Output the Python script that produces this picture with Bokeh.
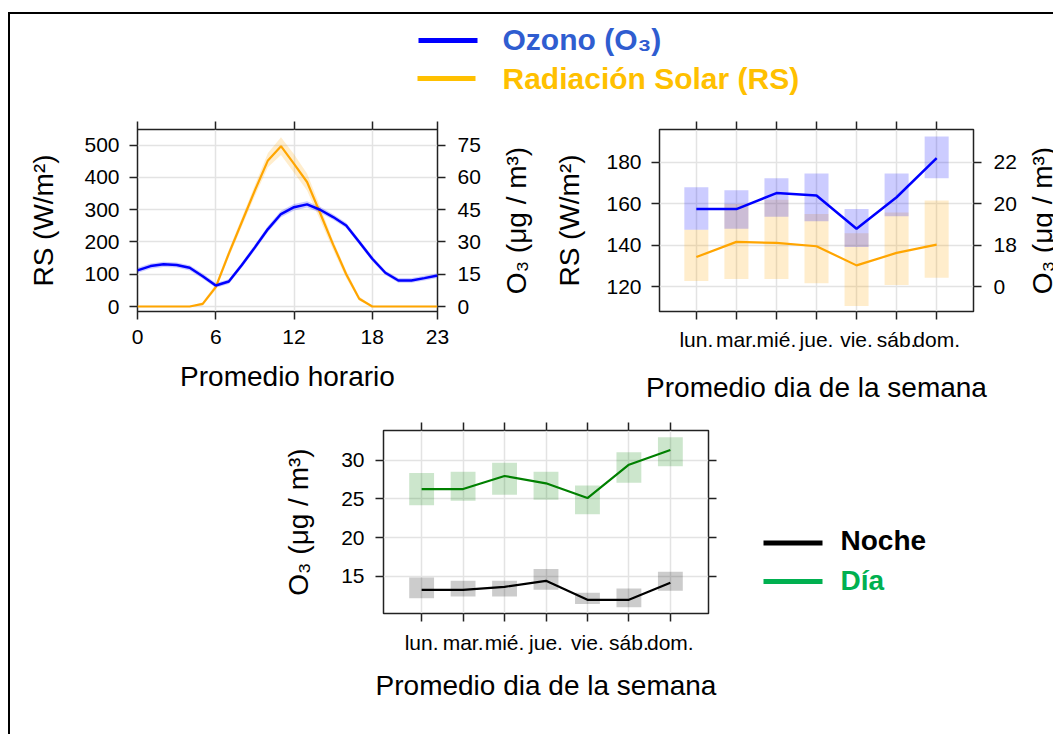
from bokeh.plotting import figure
from bokeh.models import Range1d, LinearAxis, CategoricalAxis, FixedTicker, FactorRange
from bokeh.layouts import column, row
from bokeh.embed import file_html
from bokeh.resources import INLINE
from bokeh.core.properties import value

FONT = "Liberation Sans"

# ---------------- data ----------------
hours = list(range(24))
hour_ticks = [0, 6, 12, 18, 23]
o3_hour = [16.8, 18.8, 19.6, 19.3, 18.0, 14.1, 9.8, 11.6, 19.3, 27.5, 36.0, 43.0,
           46.2, 47.5, 45.0, 41.6, 37.7, 30.0, 22.2, 15.7, 12.1, 12.1, 13.2, 14.4]
o3_hour_lo = [15.6, 17.6, 18.4, 18.1, 16.8, 12.9, 8.7, 10.5, 18.1, 26.2, 34.6, 41.5,
              44.7, 46.0, 43.6, 40.3, 36.5, 28.8, 21.0, 14.6, 11.0, 11.0, 12.1, 13.3]
o3_hour_hi = [18.0, 20.0, 20.8, 20.5, 19.2, 15.3, 10.9, 12.7, 20.5, 28.8, 37.4, 44.5,
              47.7, 49.0, 46.4, 42.9, 38.9, 31.2, 23.4, 16.8, 13.2, 13.2, 14.3, 15.5]
rs_hour = [0, 0, 0, 0, 0, 8, 60, 164, 262, 360, 453, 497,
           442, 386, 290, 192, 100, 24, 0, 0, 0, 0, 0, 0]
rs_hour_lo = [0, 0, 0, 0, 0, 2, 52, 152, 248, 343, 432, 470,
              415, 360, 268, 175, 88, 18, 0, 0, 0, 0, 0, 0]
rs_hour_hi = [0, 0, 0, 0, 0, 14, 70, 176, 276, 377, 476, 525,
              472, 412, 310, 205, 112, 32, 0, 0, 0, 0, 0, 0]
rs_ticks = [0, 100, 200, 300, 400, 500]
o3_ticks_hour = [0, 15, 30, 45, 60, 75]

days = ["lun.", "mar.", "mié.", "jue.", "vie.", "sáb.", "dom."]
o3_day = [19.75, 19.75, 20.52, 20.40, 18.80, 20.32, 22.20]
o3_day_lo = [18.76, 18.80, 19.38, 19.16, 17.92, 19.40, 21.23]
o3_day_hi = [20.80, 20.66, 21.23, 21.46, 19.75, 21.46, 23.24]
rs_day = [134.4, 141.7, 141.2, 139.6, 130.4, 136.4, 140.4]
rs_day_lo = [122.9, 123.8, 123.8, 121.8, 110.9, 121.0, 124.5]
rs_day_hi = [147.6, 159.9, 162.0, 155.1, 145.9, 155.9, 161.6]
rs_ticks_day = [120, 140, 160, 180]
o3_ticks_day = [16, 18, 20, 22]
o3_tick_text_day = {16: "0"}

dia = [26.26, 26.26, 27.94, 27.00, 25.10, 29.40, 31.29]
dia_lo = [24.16, 24.76, 25.53, 24.89, 23.00, 27.08, 29.18]
dia_hi = [28.32, 28.50, 29.66, 28.50, 26.73, 30.99, 32.92]
noche = [13.28, 13.28, 13.67, 14.44, 11.99, 11.99, 14.19]
noche_lo = [12.21, 12.42, 12.42, 13.28, 11.44, 11.05, 13.15]
noche_hi = [14.87, 14.44, 14.44, 15.95, 12.90, 13.45, 15.60]
o3_ticks_dn = [15, 20, 25, 30]

top_legend_labels = ["Ozono (O₃)", "Radiación Solar (RS)"]
top_legend_colors = ["#2F5DD0", "#FFC000"]
top_legend_line_colors = ["#0000FF", "#FFC000"]
bottom_legend_labels = ["Noche", "Día"]
bottom_legend_colors = ["#000000", "#00B050"]

BLUE = "#0000FF"
ORANGE = "#FFA500"
GREEN = "#008000"
GRID = "#E3E3E3"
FRAME = "#222222"
O3_LABEL = "O₃ (μg / m³)"
RS_LABEL = "RS (W/m²)"
TICK_FS = "21px"
LABEL_FS = "28px"


def style_axis(ax, labels=True, standoff=10, label_standoff=20):
    ax.axis_line_color = None
    ax.major_tick_line_color = FRAME
    ax.major_tick_line_width = 1.5
    ax.major_tick_in = 0
    ax.major_tick_out = 8
    ax.minor_tick_line_color = None
    ax.major_label_text_font = FONT
    if labels:
        ax.major_label_text_font_size = TICK_FS
        ax.major_label_text_color = "black"
        ax.major_label_standoff = standoff
    else:
        ax.major_label_text_font_size = "1px"
        ax.major_label_text_color = None
        ax.major_label_standoff = 0
    ax.axis_label_text_font = FONT
    ax.axis_label_text_font_size = LABEL_FS
    ax.axis_label_text_font_style = "normal"
    ax.axis_label_text_color = "black"
    ax.axis_label_standoff = label_standoff


def style_fig(p):
    p.outline_line_color = FRAME
    p.outline_line_width = 1.5
    p.grid.grid_line_color = GRID
    p.grid.grid_line_width = 1.5
    p.background_fill_color = "white"
    p.border_fill_color = None


def label_strip(width, height, border_left, border_top, border_bottom, text):
    """A narrow plot whose only content is a vertical axis title read bottom-to-top,
    used for the O3 titles that sit to the right of the right-hand axes."""
    s = figure(width=width, height=height, x_range=Range1d(0, 1), y_range=Range1d(0, 1),
               x_axis_location=None, y_axis_location="left",
               min_border_left=border_left, min_border_right=0,
               min_border_top=border_top, min_border_bottom=border_bottom,
               output_backend="svg", toolbar_location=None)
    s.grid.visible = False
    s.outline_line_color = None
    s.border_fill_color = None
    s.background_fill_color = None
    a = s.yaxis[0]
    a.ticker = FixedTicker(ticks=[])
    a.axis_line_color = None
    a.major_tick_line_color = None
    a.minor_tick_line_color = None
    a.major_tick_out = 0
    a.major_tick_in = 0
    a.major_label_text_font_size = "1px"
    a.major_label_text_color = None
    a.major_label_standoff = 0
    a.axis_label = text
    a.axis_label_text_font = FONT
    a.axis_label_text_font_size = LABEL_FS
    a.axis_label_text_font_style = "normal"
    a.axis_label_text_color = "black"
    a.axis_label_standoff = 2
    return s


# ---------------- top legend ----------------
leg_top = figure(width=1045, height=100, x_range=Range1d(0, 1045), y_range=Range1d(100, 0),
                 x_axis_location=None, y_axis_location=None, min_border=0,
                 output_backend="svg", toolbar_location=None)
leg_top.grid.visible = False
leg_top.outline_line_color = None
leg_top.border_fill_color = None
leg_top.segment(x0=[408, 407], y0=[26, 64], x1=[467, 465], y1=[26, 64],
                line_color=top_legend_line_colors, line_width=5)
leg_top.text(x=[492, 492], y=[24.5, 64.0], text=top_legend_labels, text_color=top_legend_colors,
             text_font=value(FONT), text_font_size=value("30px"), text_font_style="bold",
             text_baseline="middle", text_align="left")

# ---------------- top-left: hourly ----------------
p1 = figure(width=487, height=292, x_range=Range1d(0, 23), y_range=Range1d(-15.5, 548.8),
            min_border_left=127, min_border_right=60, min_border_top=15, min_border_bottom=95,
            output_backend="svg", toolbar_location=None)
p1.extra_y_ranges = {"o3": Range1d(-2.325, 82.32)}
style_fig(p1)
p1.xaxis.ticker = FixedTicker(ticks=hour_ticks)
p1.yaxis.ticker = FixedTicker(ticks=rs_ticks)
p1.xaxis.axis_label = "Promedio horario"
p1.yaxis.axis_label = RS_LABEL
style_axis(p1.xaxis[0], standoff=10, label_standoff=14)
style_axis(p1.yaxis[0], standoff=10, label_standoff=22)
ax = LinearAxis(y_range_name="o3", ticker=FixedTicker(ticks=o3_ticks_hour))
style_axis(ax, standoff=12)
p1.add_layout(ax, "right")
ax = LinearAxis(ticker=FixedTicker(ticks=hour_ticks))
style_axis(ax, labels=False)
p1.add_layout(ax, "above")

p1.varea(x=hours, y1=rs_hour_lo, y2=rs_hour_hi, fill_color=ORANGE, fill_alpha=0.2)
p1.varea(x=hours, y1=o3_hour_lo, y2=o3_hour_hi, fill_color=BLUE, fill_alpha=0.2, y_range_name="o3")
p1.line(hours, rs_hour, line_color=ORANGE, line_width=2.2)
p1.line(hours, o3_hour, line_color=BLUE, line_width=2.5, y_range_name="o3")

lab1 = label_strip(53, 292, 36, 15, 95, O3_LABEL)

# ---------------- top-right: day of week ----------------
p2 = figure(width=473, height=292, x_range=FactorRange(*days, range_padding=0.42, range_padding_units="absolute"),
            y_range=Range1d(108.2, 195.8),
            min_border_left=109, min_border_right=50, min_border_top=15, min_border_bottom=94,
            output_backend="svg", toolbar_location=None)
p2.extra_y_ranges = {"o3": Range1d(14.82, 23.58)}
style_fig(p2)
p2.yaxis.ticker = FixedTicker(ticks=rs_ticks_day)
p2.xaxis.axis_label = "Promedio dia de la semana"
p2.yaxis.axis_label = RS_LABEL
style_axis(p2.xaxis[0], standoff=8, label_standoff=18)
style_axis(p2.yaxis[0], standoff=10, label_standoff=18)
ax = LinearAxis(y_range_name="o3", ticker=FixedTicker(ticks=o3_ticks_day),
                major_label_overrides=o3_tick_text_day)
style_axis(ax, standoff=12)
p2.add_layout(ax, "right")
ax = CategoricalAxis()
style_axis(ax, labels=False)
p2.add_layout(ax, "above")

p2.vbar(x=days, bottom=rs_day_lo, top=rs_day_hi, width=0.6, fill_color=ORANGE, fill_alpha=0.2, line_color=None)
p2.vbar(x=days, bottom=o3_day_lo, top=o3_day_hi, width=0.6, fill_color=BLUE, fill_alpha=0.2, line_color=None,
        y_range_name="o3")
p2.line(days, rs_day, line_color=ORANGE, line_width=2.2)
p2.line(days, o3_day, line_color=BLUE, line_width=2.5, y_range_name="o3")

lab2 = label_strip(50, 292, 33, 15, 95, O3_LABEL)

# ---------------- bottom: day / night ----------------
p3 = figure(width=728, height=330, x_range=FactorRange(*days, range_padding=0.42, range_padding_units="absolute"),
            y_range=Range1d(10.23, 33.8),
            min_border_left=373, min_border_right=30, min_border_top=24, min_border_bottom=123,
            output_backend="svg", toolbar_location=None)
style_fig(p3)
p3.yaxis.ticker = FixedTicker(ticks=o3_ticks_dn)
p3.xaxis.axis_label = "Promedio dia de la semana"
p3.yaxis.axis_label = O3_LABEL
style_axis(p3.xaxis[0], standoff=9, label_standoff=13)
style_axis(p3.yaxis[0], standoff=11, label_standoff=24)
ax = LinearAxis(ticker=FixedTicker(ticks=o3_ticks_dn))
style_axis(ax, labels=False)
p3.add_layout(ax, "right")
ax = CategoricalAxis()
style_axis(ax, labels=False)
p3.add_layout(ax, "above")

p3.vbar(x=days, bottom=dia_lo, top=dia_hi, width=0.6, fill_color=GREEN, fill_alpha=0.2, line_color=None)
p3.vbar(x=days, bottom=noche_lo, top=noche_hi, width=0.6, fill_color="black", fill_alpha=0.2, line_color=None)
p3.line(days, dia, line_color=GREEN, line_width=2.2)
p3.line(days, noche, line_color="black", line_width=2.2)

# ---------------- bottom legend (frame aligned with bottom panel frame) ----------------
leg_b = figure(width=315, height=330, x_range=Range1d(0, 315), y_range=Range1d(183, 0),
               x_axis_location=None, y_axis_location=None, min_border=0,
               output_backend="svg", toolbar_location=None)
leg_b.grid.visible = False
leg_b.outline_line_color = None
leg_b.border_fill_color = None
leg_b.segment(x0=[25, 25], y0=[112.5, 151], x1=[84, 84], y1=[112.5, 151],
              line_color=bottom_legend_colors, line_width=5)
leg_b.text(x=[102, 102], y=[109.5, 149.5], text=bottom_legend_labels, text_color=bottom_legend_colors,
           text_font=value(FONT), text_font_size=value("28px"), text_font_style="bold",
           text_baseline="middle", text_align="left")

layout = column(leg_top, row(p1, lab1, p2, lab2), row(p3, leg_b),
                styles={"border-left": "2px solid black", "border-top": "2px solid black",
                        "margin-top": "12px", "margin-left": "8px"})

open("out.html", "w").write(file_html(layout, INLINE))
